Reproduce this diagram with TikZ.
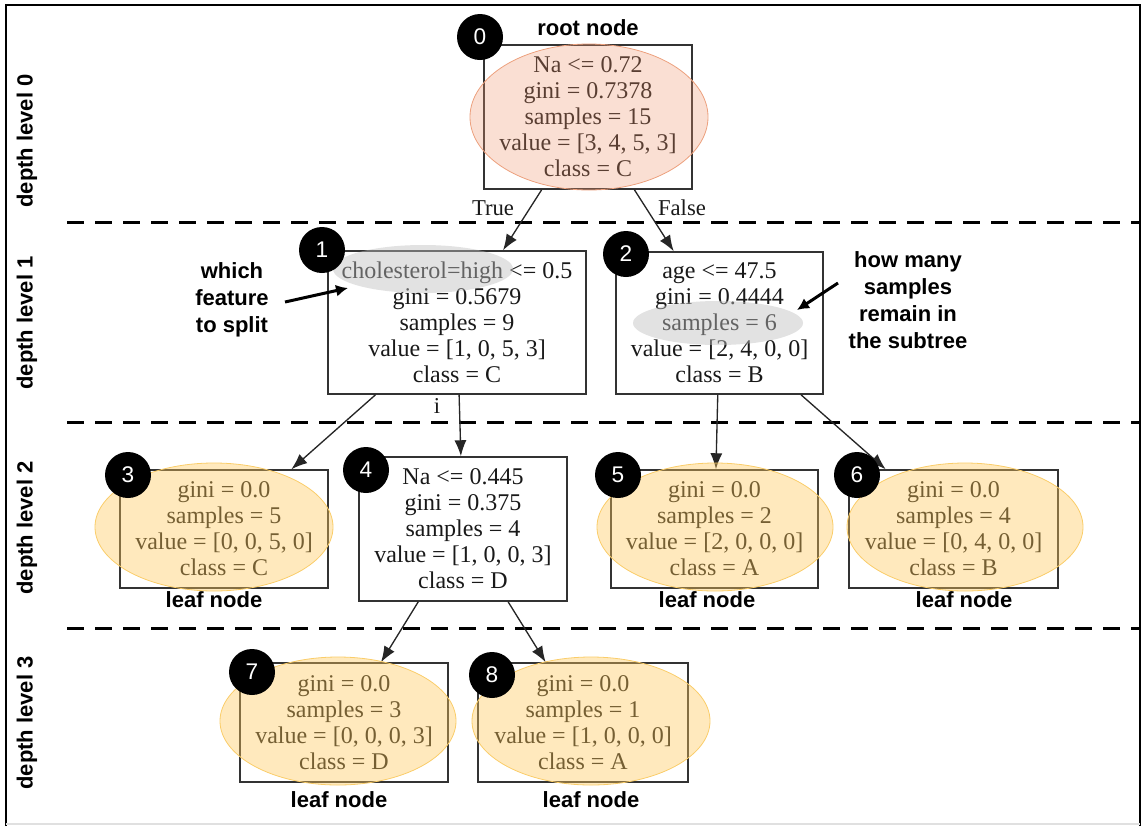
\documentclass[tikz,border=0pt]{standalone}
\usepackage{fontspec}
\setmainfont{Liberation Serif}
\newfontfamily\labelfont{Liberation Sans}
\usetikzlibrary{arrows.meta}
\tikzset{>={Latex[length=12pt,width=9pt]}}
\definecolor{rootfill}{RGB}{240,150,110}
\definecolor{rootline}{RGB}{236,160,125}
\definecolor{leaffill}{RGB}{255,200,90}
\definecolor{leafline}{RGB}{250,205,105}
\definecolor{markfill}{RGB}{190,190,190}
\tikzset{
  treebox/.style = {rectangle, draw=black!80, line width=1.1pt, align=center, inner sep=0pt,
                    text=black!90, font=\fontsize{18}{19.5}\selectfont},
  badge/.style = {circle, fill=black, text=white, minimum size=34.5pt, inner sep=0pt,
                  font=\labelfont\fontsize{17}{17}\selectfont},
  remark/.style = {align=center, inner sep=0pt, font=\labelfont\bfseries\fontsize{16.5}{20.25}\selectfont},
  branch/.style = {inner sep=0pt, text=black!90, font=\fontsize{17}{17}\selectfont},
  treeedge/.style = {->, line width=1pt, draw=black!85},
  pointer/.style = {-{Latex[length=9pt,width=9pt]}, line width=2.25pt},
  levelline/.style = {line width=2.25pt, dash pattern=on 12.75pt off 8.25pt},
  leafmark/.style = {fill=leaffill, fill opacity=.4, draw=leafline, line width=.6pt},
  rootmark/.style = {fill=rootfill, fill opacity=.3, draw=rootline, line width=.6pt},
  graymark/.style = {fill=markfill, fill opacity=.45}
}

\begin{document}
\begin{tikzpicture}[x=0.75pt, y=-0.75pt]
\useasboundingbox (0,0) rectangle (1143,826);

% frame and depth levels
\draw [line width=1.5pt] (6,826) -- (6,5) -- (1140,5) -- (1140,826);
\draw [black!12, line width=1pt] (6,824) -- (1140,824);
\foreach \y in {222,422,628}
  \draw [levelline] (67,\y) -- (1140,\y);

\node [remark, rotate=90] (D0) at (27,141) {depth level 0};
\node [remark, rotate=90] (D1) at (27,323) {depth level 1};
\node [remark, rotate=90] (D2) at (27,528) {depth level 2};
\node [remark, rotate=90] (D3) at (27,723) {depth level 3};

% tree nodes
\node [treebox, minimum width=156pt, minimum height=108pt] (N0) at (588,117)
  {Na <= 0.72\\gini = 0.7378\\samples = 15\\value = [3, 4, 5, 3]\\class = C};
\node [treebox, minimum width=193.5pt, minimum height=107.25pt] (N1) at (457,322.5)
  {cholesterol=high <= 0.5\\gini = 0.5679\\samples = 9\\value = [1, 0, 5, 3]\\class = C};
\node [treebox, minimum width=155.25pt, minimum height=106.5pt] (N2) at (719.5,323)
  {age <= 47.5\\gini = 0.4444\\samples = 6\\value = [2, 4, 0, 0]\\class = B};
\node [treebox, minimum width=156pt, minimum height=88.5pt] (N3) at (224,529)
  {gini = 0.0\\samples = 5\\value = [0, 0, 5, 0]\\class = C};
\node [treebox, minimum width=156pt, minimum height=108pt] (N4) at (463,529)
  {Na <= 0.445\\gini = 0.375\\samples = 4\\value = [1, 0, 0, 3]\\class = D};
\node [treebox, minimum width=155.25pt, minimum height=88.5pt] (N5) at (714.5,529)
  {gini = 0.0\\samples = 2\\value = [2, 0, 0, 0]\\class = A};
\node [treebox, minimum width=156.75pt, minimum height=88.5pt] (N6) at (953.5,529)
  {gini = 0.0\\samples = 4\\value = [0, 4, 0, 0]\\class = B};
\node [treebox, minimum width=156pt, minimum height=89.25pt] (N7) at (344,722.5)
  {gini = 0.0\\samples = 3\\value = [0, 0, 0, 3]\\class = D};
\node [treebox, minimum width=157.5pt, minimum height=89.25pt] (N8) at (583,722.5)
  {gini = 0.0\\samples = 1\\value = [1, 0, 0, 0]\\class = A};

\draw [treeedge] (N0) to (N1);
\draw [treeedge] (N0) to (N2);
\draw [treeedge] (N1) to (N3);
\draw [treeedge] (N1) to (N4);
\draw [treeedge] (N2) to (N5);
\draw [treeedge] (N2) to (N6);
\draw [treeedge] (N4) to (N7);
\draw [treeedge] (N4) to (N8);

\node [branch] (T0) at (493,208) {True};
\node [branch] (F0) at (682,208) {False};
\node [branch] (I1) at (437,406) {i};

% labels
\node [remark] (R0) at (588,28) {root node};
\node [remark] (L3) at (214,600) {leaf node};
\node [remark] (L5) at (707,600) {leaf node};
\node [remark] (L6) at (964,600) {leaf node};
\node [remark] (L7) at (339,800) {leaf node};
\node [remark] (L8) at (591,800) {leaf node};
\node [remark] (W1) at (232,300) {which\\feature\\to split};
\node [remark] (H2) at (908,300) {how many\\samples\\remain in\\the subtree};

% highlights
\filldraw [rootmark] (589,117) ellipse [x radius=119, y radius=73];
\filldraw [leafmark] (214,527) ellipse [x radius=119, y radius=64];
\filldraw [leafmark] (715,527) ellipse [x radius=118, y radius=64];
\filldraw [leafmark] (965,527) ellipse [x radius=118, y radius=64];
\filldraw [leafmark] (338,721) ellipse [x radius=118, y radius=64];
\filldraw [leafmark] (591,721) ellipse [x radius=119, y radius=64];
\fill [graymark] (423,269) ellipse [x radius=90, y radius=24];
\fill [graymark] (718,323) ellipse [x radius=85, y radius=22];

\coordinate (W1s) at (285,302);
\coordinate (W1e) at (348,288);
\coordinate (H2s) at (838,283);
\coordinate (H2e) at (797,310);
\draw [pointer] (W1s) -- (W1e);
\draw [pointer] (H2s) -- (H2e);

% node numbers
\node [badge] (B0) at (480,37) {0};
\node [badge] (B1) at (322,250) {1};
\node [badge] (B2) at (626,254) {2};
\node [badge] (B3) at (128,475) {3};
\node [badge] (B4) at (366,470) {4};
\node [badge] (B5) at (618,475) {5};
\node [badge] (B6) at (857,475) {6};
\node [badge] (B7) at (252,672) {7};
\node [badge] (B8) at (492,675) {8};
\end{tikzpicture}
\end{document}
